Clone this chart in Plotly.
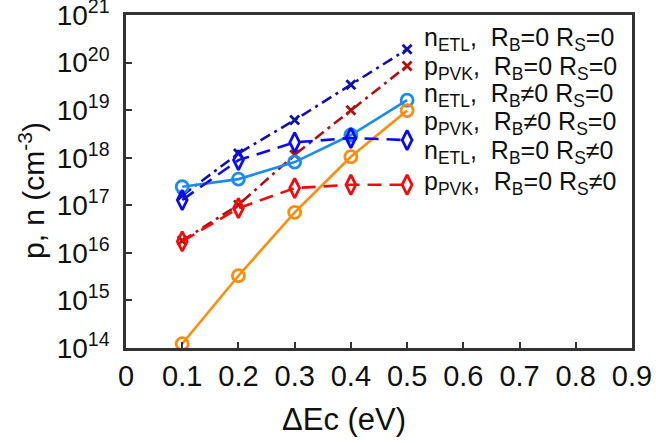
import plotly.graph_objects as go

dEc = [0.1, 0.2, 0.3, 0.4, 0.5]

n_etl_rb0_rs0 = [1.6e17, 1.23e18, 6.2e18, 3.4e19, 1.9e20]
p_pvk_rb0_rs0 = [1.8e16, 1.02e17, 1.15e18, 1.0e19, 8.5e19]
n_etl_rbn_rs0 = [2.45e17, 3.55e17, 8.1e17, 3.0e18, 1.62e19]
p_pvk_rbn_rs0 = [1.23e14, 3.3e15, 7.1e16, 1.05e18, 9.8e18]
n_etl_rb0_rsn = [1.29e17, 8.9e17, 2.1e18, 2.6e18, 2.35e18]
p_pvk_rb0_rsn = [1.74e16, 8.7e16, 2.3e17, 2.7e17, 2.7e17]

labels = [
    "n<sub>ETL</sub>,  R<sub>B</sub>=0 R<sub>S</sub>=0",
    "p<sub>PVK</sub>,  R<sub>B</sub>=0 R<sub>S</sub>=0",
    "n<sub>ETL</sub>,  R<sub>B</sub>≠0 R<sub>S</sub>=0",
    "p<sub>PVK</sub>,  R<sub>B</sub>≠0 R<sub>S</sub>=0",
    "n<sub>ETL</sub>,  R<sub>B</sub>=0 R<sub>S</sub>≠0",
    "p<sub>PVK</sub>,  R<sub>B</sub>=0 R<sub>S</sub>≠0",
]

x_ticks = [0, 0.1, 0.2, 0.3, 0.4, 0.5, 0.6, 0.7, 0.8, 0.9]
y_exps = [14, 15, 16, 17, 18, 19, 20, 21]

FONT = "Arial, Liberation Sans"
DASHDOT = "11px,5px,3px,5px"
DASH = "14px,8px"

series = [
    (n_etl_rb0_rs0, "#1010b0", DASHDOT, "x-thin-open", 9),
    (p_pvk_rb0_rs0, "#b01010", DASHDOT, "x-thin-open", 9),
    (n_etl_rbn_rs0, "#1a8cf0", "solid", "circle-open", 12),
    (p_pvk_rbn_rs0, "#ff8c0a", "solid", "circle-open", 12),
    (n_etl_rb0_rsn, "#0a0af5", DASH, "diamond-tall-open", 14),
    (p_pvk_rb0_rsn, "#f50a0a", DASH, "diamond-tall-open", 14),
]

fig = go.Figure()
for vals, col, dash, sym, sz in series:
    fig.add_trace(go.Scatter(
        x=dEc, y=vals, mode="lines+markers",
        line=dict(color=col, width=2.6, dash=dash),
        marker=dict(symbol=sym, size=sz, color=col, line=dict(color=col, width=2.8)),
        showlegend=False,
    ))

label_y = [0.928, 0.841, 0.760, 0.676, 0.589, 0.495]
for txt, yy in zip(labels, label_y):
    fig.add_annotation(text=txt, xref="paper", yref="paper", x=0.585, y=yy,
                       xanchor="left", yanchor="middle", showarrow=False,
                       font=dict(size=25, color="#111", family=FONT))

fig.add_annotation(text="ΔEc (eV)", xref="paper", yref="paper", x=0.43, y=-0.215,
                   xanchor="center", yanchor="middle", showarrow=False,
                   font=dict(size=31, color="#111", family=FONT))
fig.add_annotation(text="p, n (cm<sup>-3</sup>)", xref="paper", yref="paper", x=-0.186, y=0.474,
                   xanchor="center", yanchor="middle", showarrow=False, textangle=-90,
                   font=dict(size=30, color="#111", family=FONT))

fig.update_xaxes(range=[0, 0.9], tickvals=x_ticks,
                 ticktext=[("0" if v == 0 else f"{v:g}") for v in x_ticks],
                 ticks="inside", ticklen=6, tickwidth=2, tickcolor="#333",
                 showline=True, linecolor="#333", linewidth=2.5, mirror=True,
                 showgrid=False, zeroline=False, ticklabeloverflow="allow",
                 automargin=False,
                 tickfont=dict(size=29, color="#111", family=FONT))
fig.update_yaxes(type="log", range=[14, 21.0001], tickvals=[10.0 ** e for e in y_exps],
                 ticktext=[f"10<sup>{e}</sup>" for e in y_exps],
                 ticks="inside", ticklen=6, tickwidth=2, tickcolor="#333",
                 showline=True, linecolor="#333", linewidth=2.5, mirror=True,
                 showgrid=False, zeroline=False, ticklabelstandoff=8,
                 ticklabeloverflow="allow", automargin=False,
                 tickfont=dict(size=28, color="#111", family=FONT))

fig.update_layout(width=656, height=443, margin=dict(l=126, r=24, t=15, b=95),
                  plot_bgcolor="white", paper_bgcolor="white")

fig.write_html("out.html", config={"displayModeBar": False},
               post_script="document.body.style.margin='0';document.body.style.overflow='hidden';")
